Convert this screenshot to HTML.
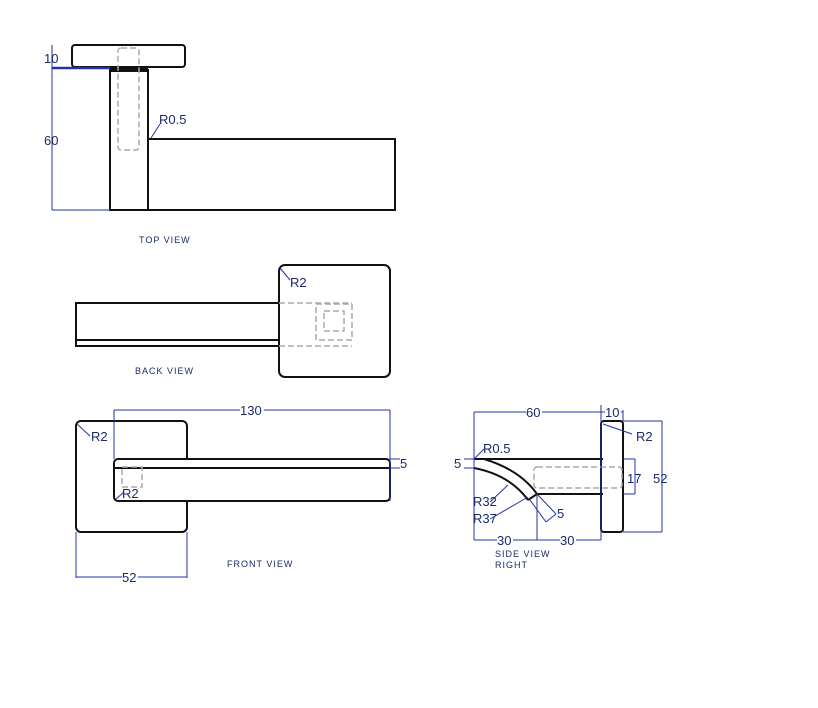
<!DOCTYPE html>
<html><head><style>
html,body{margin:0;padding:0;background:#fff;width:818px;height:708px;overflow:hidden}
svg text{font-family:"Liberation Sans",sans-serif;fill:#1a2a6a}
</style></head><body>
<svg width="818" height="708" viewBox="0 0 818 708" xmlns="http://www.w3.org/2000/svg">
<g fill="none" stroke="#111" stroke-width="2">
<rect x="72" y="45" width="113" height="22" rx="3"/>
<rect x="110" y="70" width="38" height="140"/>
<rect x="148" y="139" width="247" height="71"/>
<line x1="110" y1="70" x2="148" y2="70" stroke-width="4"/>
<rect x="279" y="265" width="111" height="112" rx="6"/>
<rect x="76" y="303" width="203" height="43"/>
<line x1="76" y1="340" x2="279" y2="340"/>
<rect x="76" y="421" width="111" height="111" rx="5"/>
<rect x="114" y="459" width="276" height="42" rx="4" fill="#fff"/>
<line x1="114" y1="468" x2="390" y2="468"/>
<rect x="601" y="421" width="22" height="111" rx="3"/>
<line x1="484" y1="459" x2="603" y2="459"/>
<line x1="537" y1="494" x2="603" y2="494"/>
<path d="M474 459 L484 459 Q520 470 537 494"/>
<path d="M474 468 Q510 475 528 500"/>
<line x1="528" y1="500" x2="537" y2="494"/>
</g>
<g fill="none" stroke="#aaa" stroke-width="1.5" stroke-dasharray="6,3">
<rect x="118" y="48" width="21" height="102" rx="3"/>
<line x1="279" y1="303" x2="352" y2="303"/>
<line x1="279" y1="346" x2="352" y2="346"/>
<rect x="316" y="304" width="36" height="36"/>
<rect x="324" y="311" width="20" height="20"/>
<rect x="122" y="467" width="20" height="20"/>
<rect x="534" y="467" width="88" height="21" rx="3"/>
</g>
<g fill="none" stroke="#2233aa" stroke-width="1">
<line x1="52" y1="45" x2="52" y2="210"/>
<line x1="52" y1="210" x2="110" y2="210"/>
<line x1="52" y1="68" x2="110" y2="68" stroke-width="2.5"/>
<line x1="151" y1="138" x2="160" y2="124"/>
<line x1="280" y1="268" x2="290" y2="280"/>
<line x1="114" y1="410" x2="390" y2="410"/>
<line x1="114" y1="410" x2="114" y2="459"/>
<line x1="390" y1="410" x2="390" y2="501"/>
<line x1="390" y1="459" x2="400" y2="459"/><line x1="390" y1="468" x2="400" y2="468"/>
<line x1="77" y1="424" x2="90" y2="436"/>
<line x1="116" y1="499" x2="124" y2="492"/>
<line x1="76" y1="532" x2="76" y2="578"/>
<line x1="187" y1="532" x2="187" y2="578"/>
<line x1="76" y1="577" x2="187" y2="577"/>
<line x1="474" y1="412" x2="601" y2="412"/>
<line x1="474" y1="412" x2="474" y2="540"/>
<line x1="601" y1="405" x2="601" y2="540"/>
<line x1="623" y1="410" x2="623" y2="421"/>
<line x1="601" y1="412" x2="623" y2="412"/>
<line x1="623" y1="421" x2="662" y2="421"/><line x1="623" y1="532" x2="662" y2="532"/>
<line x1="662" y1="421" x2="662" y2="532"/>
<line x1="623" y1="459" x2="635" y2="459"/><line x1="623" y1="494" x2="635" y2="494"/>
<line x1="635" y1="459" x2="635" y2="494"/>
<line x1="474" y1="540" x2="601" y2="540"/>
<line x1="537" y1="494" x2="537" y2="540"/>
<line x1="474" y1="459" x2="484" y2="449"/>
<line x1="603" y1="424" x2="632" y2="434"/>
<line x1="464" y1="459" x2="474" y2="459"/><line x1="464" y1="468" x2="474" y2="468"/>
<line x1="490" y1="502" x2="508" y2="485"/>
<line x1="490" y1="519" x2="528" y2="497"/>
<line x1="537" y1="494" x2="556" y2="514"/>
<line x1="530" y1="500" x2="546" y2="522"/><line x1="546" y1="522" x2="556" y2="514"/>
</g>
<g fill="#fff">
<rect x="240" y="404" width="24" height="12"/>
<rect x="122" y="571" width="16" height="12"/>
<rect x="526" y="406" width="16" height="12"/>
<rect x="605" y="406" width="16" height="12"/>
<rect x="497" y="534" width="16" height="12"/>
<rect x="560" y="534" width="16" height="12"/>
</g>
<g font-size="13">
<text x="44" y="63">10</text>
<text x="44" y="145">60</text>
<text x="159" y="124">R0.5</text>
<text x="290" y="287">R2</text>
<text x="240" y="415">130</text>
<text x="400" y="468">5</text>
<text x="91" y="441">R2</text>
<text x="122" y="498">R2</text>
<text x="122" y="582">52</text>
<text x="526" y="417">60</text>
<text x="605" y="417">10</text>
<text x="636" y="441">R2</text>
<text x="483" y="453">R0.5</text>
<text x="454" y="468">5</text>
<text x="627" y="483">17</text>
<text x="653" y="483">52</text>
<text x="473" y="506">R32</text>
<text x="473" y="523">R37</text>
<text x="557" y="518">5</text>
<text x="497" y="545">30</text>
<text x="560" y="545">30</text>
</g>
<g font-size="9" letter-spacing="1">
<text x="139" y="243">TOP VIEW</text>
<text x="135" y="374">BACK VIEW</text>
<text x="227" y="567">FRONT VIEW</text>
<text x="495" y="557">SIDE VIEW</text>
<text x="495" y="568">RIGHT</text>
</g>
</svg>
</body></html>
